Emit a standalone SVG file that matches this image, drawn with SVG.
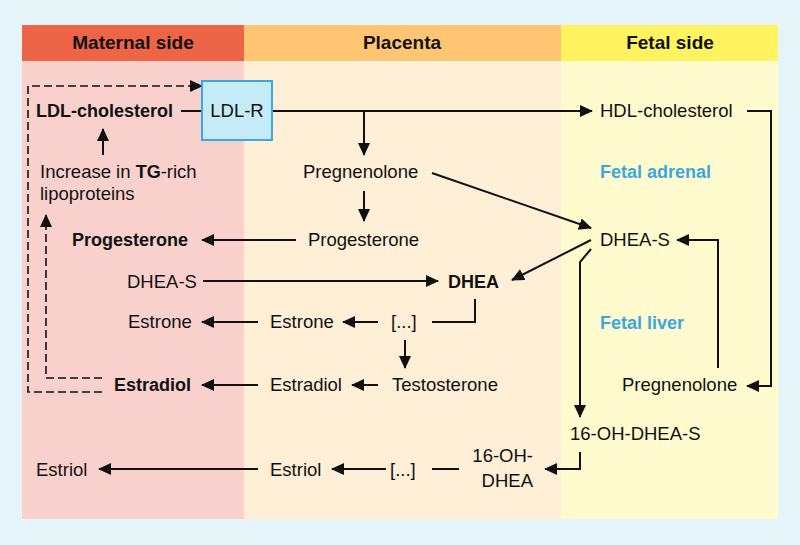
<svg xmlns="http://www.w3.org/2000/svg" width="800" height="545" viewBox="0 0 800 545">
<defs>
<style>
text{font-family:"Liberation Sans",Arial,sans-serif;font-size:18.5px;fill:#111}
.b{font-weight:bold;font-size:18px}
.h{font-weight:bold;font-size:19px;text-anchor:middle}
.blue{fill:#3AA8E0;font-weight:bold;font-size:18px}
.c{fill:none;stroke:#111;stroke-width:2}
.d{fill:none;stroke:#111;stroke-width:1.6;stroke-dasharray:8 4}
</style>
<marker id="ah" markerUnits="userSpaceOnUse" markerWidth="13" markerHeight="12" refX="12" refY="6" orient="auto">
<path d="M0,0 L13,6 L0,12 z" fill="#111"/>
</marker>
</defs>
<rect x="0" y="0" width="800" height="545" fill="#E4F4F9"/>
<g id="columns">
<rect x="22" y="25" width="222" height="36" fill="#EE6446"/>
<rect x="22" y="61" width="222" height="458" fill="#F9D1CC"/>
<rect x="244" y="25" width="317" height="36" fill="#FFC573"/>
<rect x="244" y="61" width="317" height="458" fill="#FEEFD6"/>
<rect x="561" y="25" width="217" height="36" fill="#FFF45F"/>
<rect x="561" y="61" width="217" height="458" fill="#FFFBCF"/>
<text class="h" x="133" y="49">Maternal side</text>
<text class="h" x="402" y="49">Placenta</text>
<text class="h" x="670" y="49">Fetal side</text>
</g>
<g id="connectors">
<line class="c" x1="181" y1="111" x2="202" y2="111"/>
<line class="c" x1="272" y1="111" x2="592" y2="111" marker-end="url(#ah)"/>
<line class="c" x1="364" y1="111" x2="364" y2="155" marker-end="url(#ah)"/>
<line class="c" x1="364" y1="191" x2="364" y2="221" marker-end="url(#ah)"/>
<line class="c" x1="296" y1="240" x2="202" y2="240" marker-end="url(#ah)"/>
<line class="c" x1="103" y1="155" x2="103" y2="129" marker-end="url(#ah)"/>
<line class="c" x1="432" y1="173" x2="591" y2="228" marker-end="url(#ah)"/>
<line class="c" x1="203" y1="281" x2="438" y2="281" marker-end="url(#ah)"/>
<line class="c" x1="591" y1="240" x2="512" y2="280" marker-end="url(#ah)"/>
<polyline class="c" points="591,249 580,262 580,417" marker-end="url(#ah)"/>
<polyline class="c" points="747,111 771,111 771,386 747,386" marker-end="url(#ah)"/>
<polyline class="c" points="718,368 718,240 677,240" marker-end="url(#ah)"/>
<polyline class="c" points="475,299 475,322 432,322"/>
<line class="c" x1="378" y1="322" x2="343" y2="322" marker-end="url(#ah)"/>
<line class="c" x1="258" y1="322" x2="202" y2="322" marker-end="url(#ah)"/>
<line class="c" x1="405" y1="340" x2="405" y2="368" marker-end="url(#ah)"/>
<line class="c" x1="378" y1="385" x2="352" y2="385" marker-end="url(#ah)"/>
<line class="c" x1="258" y1="385" x2="202" y2="385" marker-end="url(#ah)"/>
<polyline class="c" points="580,452 580,469 545,469" marker-end="url(#ah)"/>
<line class="c" x1="432" y1="469" x2="459" y2="469"/>
<line class="c" x1="386" y1="469" x2="332" y2="469" marker-end="url(#ah)"/>
<line class="c" x1="258" y1="469" x2="99" y2="469" marker-end="url(#ah)"/>
<polyline class="d" points="102,392 28,392 28,86 202,86" marker-end="url(#ah)"/>
<polyline class="d" points="102,378 46,378 46,215" marker-end="url(#ah)"/>
</g>
<g id="ldl-cholesterol"><text class="b" x="36" y="117">LDL-cholesterol</text></g>
<g id="ldl-r"><rect x="202" y="81" width="70" height="59" fill="#C5EBF7" stroke="#3AA8E0" stroke-width="2"/><text x="237" y="117" text-anchor="middle">LDL-R</text></g>
<g id="hdl-cholesterol"><text x="600" y="117">HDL-cholesterol</text></g>
<g id="pregnenolone-p"><text x="303" y="178">Pregnenolone</text></g>
<g id="increase-tg"><text x="40" y="178">Increase in <tspan class="b">TG</tspan>-rich</text><text x="40" y="200">lipoproteins</text></g>
<g id="fetal-adrenal"><text class="blue" x="600" y="178">Fetal adrenal</text></g>
<g id="progesterone-m"><text class="b" x="72" y="246">Progesterone</text></g>
<g id="progesterone-p"><text x="308" y="246">Progesterone</text></g>
<g id="dheas-f"><text x="600" y="246">DHEA-S</text></g>
<g id="dheas-m"><text x="127" y="288">DHEA-S</text></g>
<g id="dhea"><text class="b" x="448" y="288">DHEA</text></g>
<g id="estrone-m"><text x="128" y="328">Estrone</text></g>
<g id="estrone-p"><text x="270" y="328">Estrone</text></g>
<g id="dots1"><text x="391" y="328">[...]</text></g>
<g id="fetal-liver"><text class="blue" x="600" y="329">Fetal liver</text></g>
<g id="testosterone"><text x="392" y="391">Testosterone</text></g>
<g id="estradiol-m"><text class="b" x="114" y="391">Estradiol</text></g>
<g id="estradiol-p"><text x="270" y="391">Estradiol</text></g>
<g id="pregnenolone-f"><text x="622" y="391">Pregnenolone</text></g>
<g id="oh-dheas"><text x="570" y="440">16-OH-DHEA-S</text></g>
<g id="oh-dhea"><text x="533" y="462" text-anchor="end">16-OH-</text><text x="533" y="487" text-anchor="end">DHEA</text></g>
<g id="dots2"><text x="390" y="476">[...]</text></g>
<g id="estriol-p"><text x="270" y="476">Estriol</text></g>
<g id="estriol-m"><text x="36" y="476">Estriol</text></g>
</svg>
